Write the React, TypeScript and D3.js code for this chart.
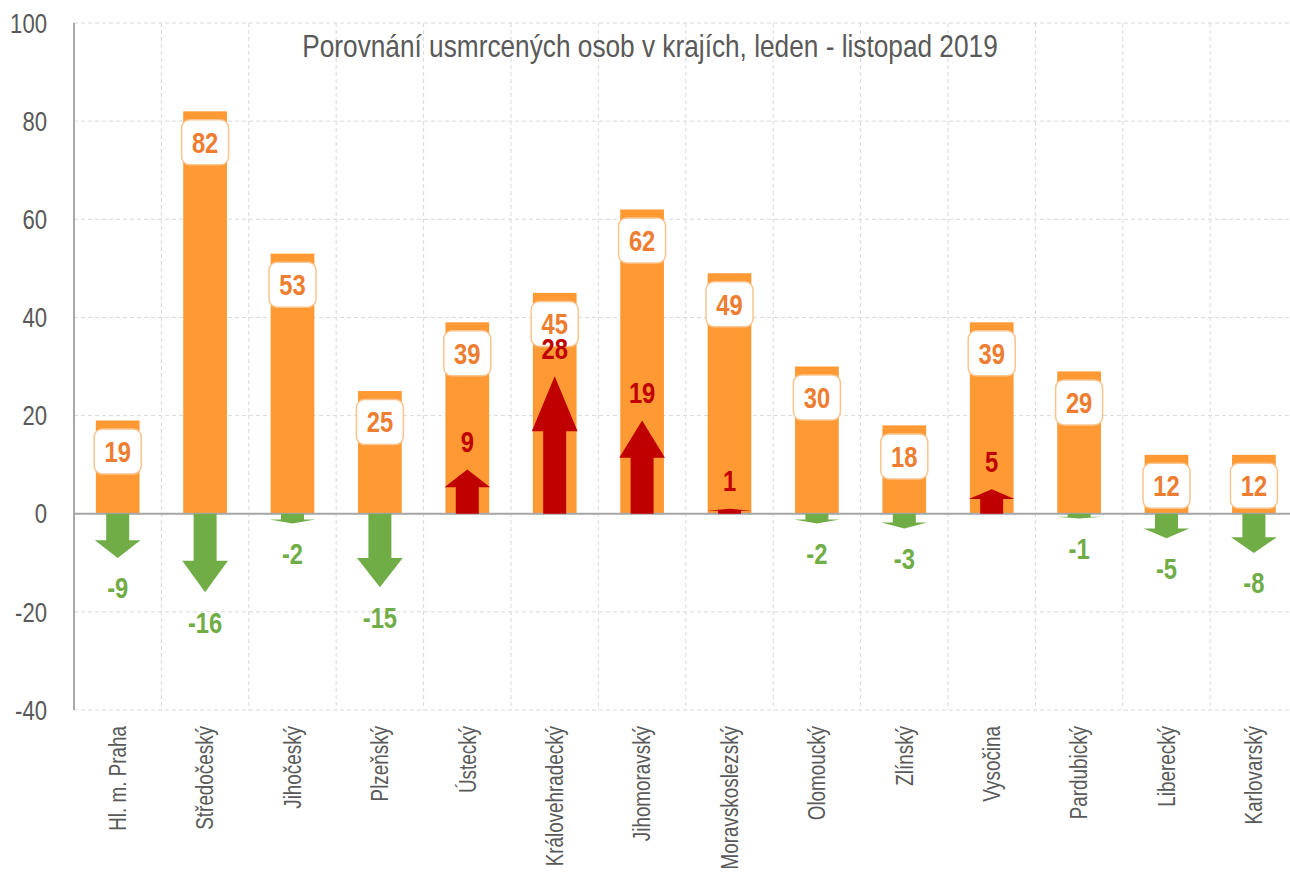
import { useMemo } from 'react';
import * as d3 from 'd3';

const regions = [
  'Hl. m. Praha',
  'Středočeský',
  'Jihočeský',
  'Plzeňský',
  'Ústecký',
  'Královehradecký',
  'Jihomoravský',
  'Moravskoslezský',
  'Olomoucký',
  'Zlínský',
  'Vysočina',
  'Pardubický',
  'Liberecký',
  'Karlovarský',
];
const deaths2019 = [19, 82, 53, 25, 39, 45, 62, 49, 30, 18, 39, 29, 12, 12];
const changeVs2018 = [-9, -16, -2, -15, 9, 28, 19, 1, -2, -3, 5, -1, -5, -8];
const yTicks = [-40, -20, 0, 20, 40, 60, 80, 100];

const TITLE = 'Porovnání usmrcených osob v krajích, leden - listopad 2019';
// no narrow font installed, so squeeze Liberation Sans horizontally
const FONT = "'Liberation Sans', Arial, sans-serif";
const NARROW = 0.82;

const width = 1290;
const height = 874;
const margin = { top: 23, left: 74, bottom: 164 };

type NTProps = {
  x: number;
  y: number;
  rotate?: number;
  size: number;
  fill: string;
  anchor?: 'start' | 'middle' | 'end';
  bold?: boolean;
  children: React.ReactNode;
};

function NarrowText({ x, y, rotate = 0, size, fill, anchor = 'middle', bold, children }: NTProps) {
  return (
    <text
      transform={`translate(${x},${y}) rotate(${rotate}) scale(${NARROW},1)`}
      dy="0.36em"
      textAnchor={anchor}
      fontFamily={FONT}
      fontSize={size}
      fontWeight={bold ? 'bold' : 'normal'}
      fill={fill}
    >
      {children}
    </text>
  );
}

export default function App() {
  const x = useMemo(
    () =>
      d3
        .scaleBand()
        .domain(regions)
        .range([margin.left, margin.left + 14 * 87.4])
        .paddingInner(0.5)
        .paddingOuter(0.25),
    []
  );
  const y = useMemo(
    () => d3.scaleLinear().domain([-40, 100]).range([height - margin.bottom, margin.top]),
    []
  );

  const step = x.step();
  const bw = x.bandwidth();
  const x0 = margin.left;
  const x1 = margin.left + 14 * step;
  const cxOf = (r: string) => (x(r) ?? 0) + bw / 2;

  // arrow polygon from zero line to the change value
  const arrowPath = (cx: number, v: number) => {
    const base = y(0);
    const tip = y(v);
    const headLen = (tip - base) * 0.4;
    const hw = bw / 2 + 1;
    const sw = 11.5;
    const neck = tip - headLen;
    return (
      d3.line()([
        [cx - sw, base],
        [cx - sw, neck],
        [cx - hw, neck],
        [cx, tip],
        [cx + hw, neck],
        [cx + sw, neck],
        [cx + sw, base],
      ]) + 'Z'
    );
  };

  return (
    <div style={{ position: 'absolute', left: 0, top: 0 }}>
      <svg width={width} height={height} style={{ display: 'block', background: '#fff' }}>
        {/* grid */}
        {yTicks.map((t) => (
          <line
            key={'h' + t}
            x1={x0}
            x2={x1}
            y1={y(t)}
            y2={y(t)}
            stroke="#d9d9d9"
            strokeWidth={1}
            strokeDasharray="4 3"
          />
        ))}
        {d3.range(1, 15).map((i) => (
          <line
            key={'v' + i}
            x1={x0 + i * step}
            x2={x0 + i * step}
            y1={y(100)}
            y2={y(-40)}
            stroke="#d9d9d9"
            strokeWidth={1}
            strokeDasharray="4 3"
          />
        ))}

        <NarrowText x={650} y={45} size={32} fill="#595959">
          {TITLE}
        </NarrowText>

        {/* bars */}
        {regions.map((r, i) => (
          <rect
            key={'b' + r}
            x={x(r)}
            y={y(deaths2019[i])}
            width={bw}
            height={y(0) - y(deaths2019[i])}
            fill="#ff9933"
          />
        ))}

        {/* axes */}
        <line x1={x0} x2={x0} y1={y(100)} y2={y(-40)} stroke="#8c8c8c" strokeWidth={1.5} />
        <line x1={x0} x2={x1} y1={y(0)} y2={y(0)} stroke="#a6a6a6" strokeWidth={2} />

        {/* change arrows */}
        {regions.map((r, i) => (
          <path
            key={'a' + r}
            d={arrowPath(cxOf(r), changeVs2018[i])}
            fill={changeVs2018[i] > 0 ? '#c00000' : '#70ad47'}
          />
        ))}

        {/* value boxes */}
        {regions.map((r, i) => {
          const cx = cxOf(r);
          const cy = y(deaths2019[i]) + 31;
          return (
            <g key={'l' + r}>
              <rect
                x={cx - 23.5}
                y={cy - 22.5}
                width={47}
                height={45}
                rx={8}
                fill="#fff"
                stroke="#fbc48e"
                strokeWidth={1.5}
              />
              <NarrowText x={cx} y={cy} size={29} bold fill="#ed7d31">
                {deaths2019[i]}
              </NarrowText>
            </g>
          );
        })}

        {/* change labels */}
        {regions.map((r, i) => {
          const v = changeVs2018[i];
          const cy = v > 0 ? y(v) - 28 : y(v) + 30;
          return (
            <NarrowText
              key={'c' + r}
              x={cxOf(r)}
              y={cy}
              size={29}
              bold
              fill={v > 0 ? '#c00000' : '#70ad47'}
            >
              {v}
            </NarrowText>
          );
        })}

        {/* y tick labels */}
        {yTicks.map((t) => (
          <NarrowText key={'yt' + t} x={47} y={y(t)} size={27} anchor="end" fill="#595959">
            {t}
          </NarrowText>
        ))}

        {/* x labels */}
        {regions.map((r) => (
          <NarrowText
            key={'x' + r}
            x={cxOf(r)}
            y={y(-40) + 16}
            rotate={-90}
            size={23}
            anchor="end"
            fill="#595959"
          >
            {r}
          </NarrowText>
        ))}
      </svg>
    </div>
  );
}
